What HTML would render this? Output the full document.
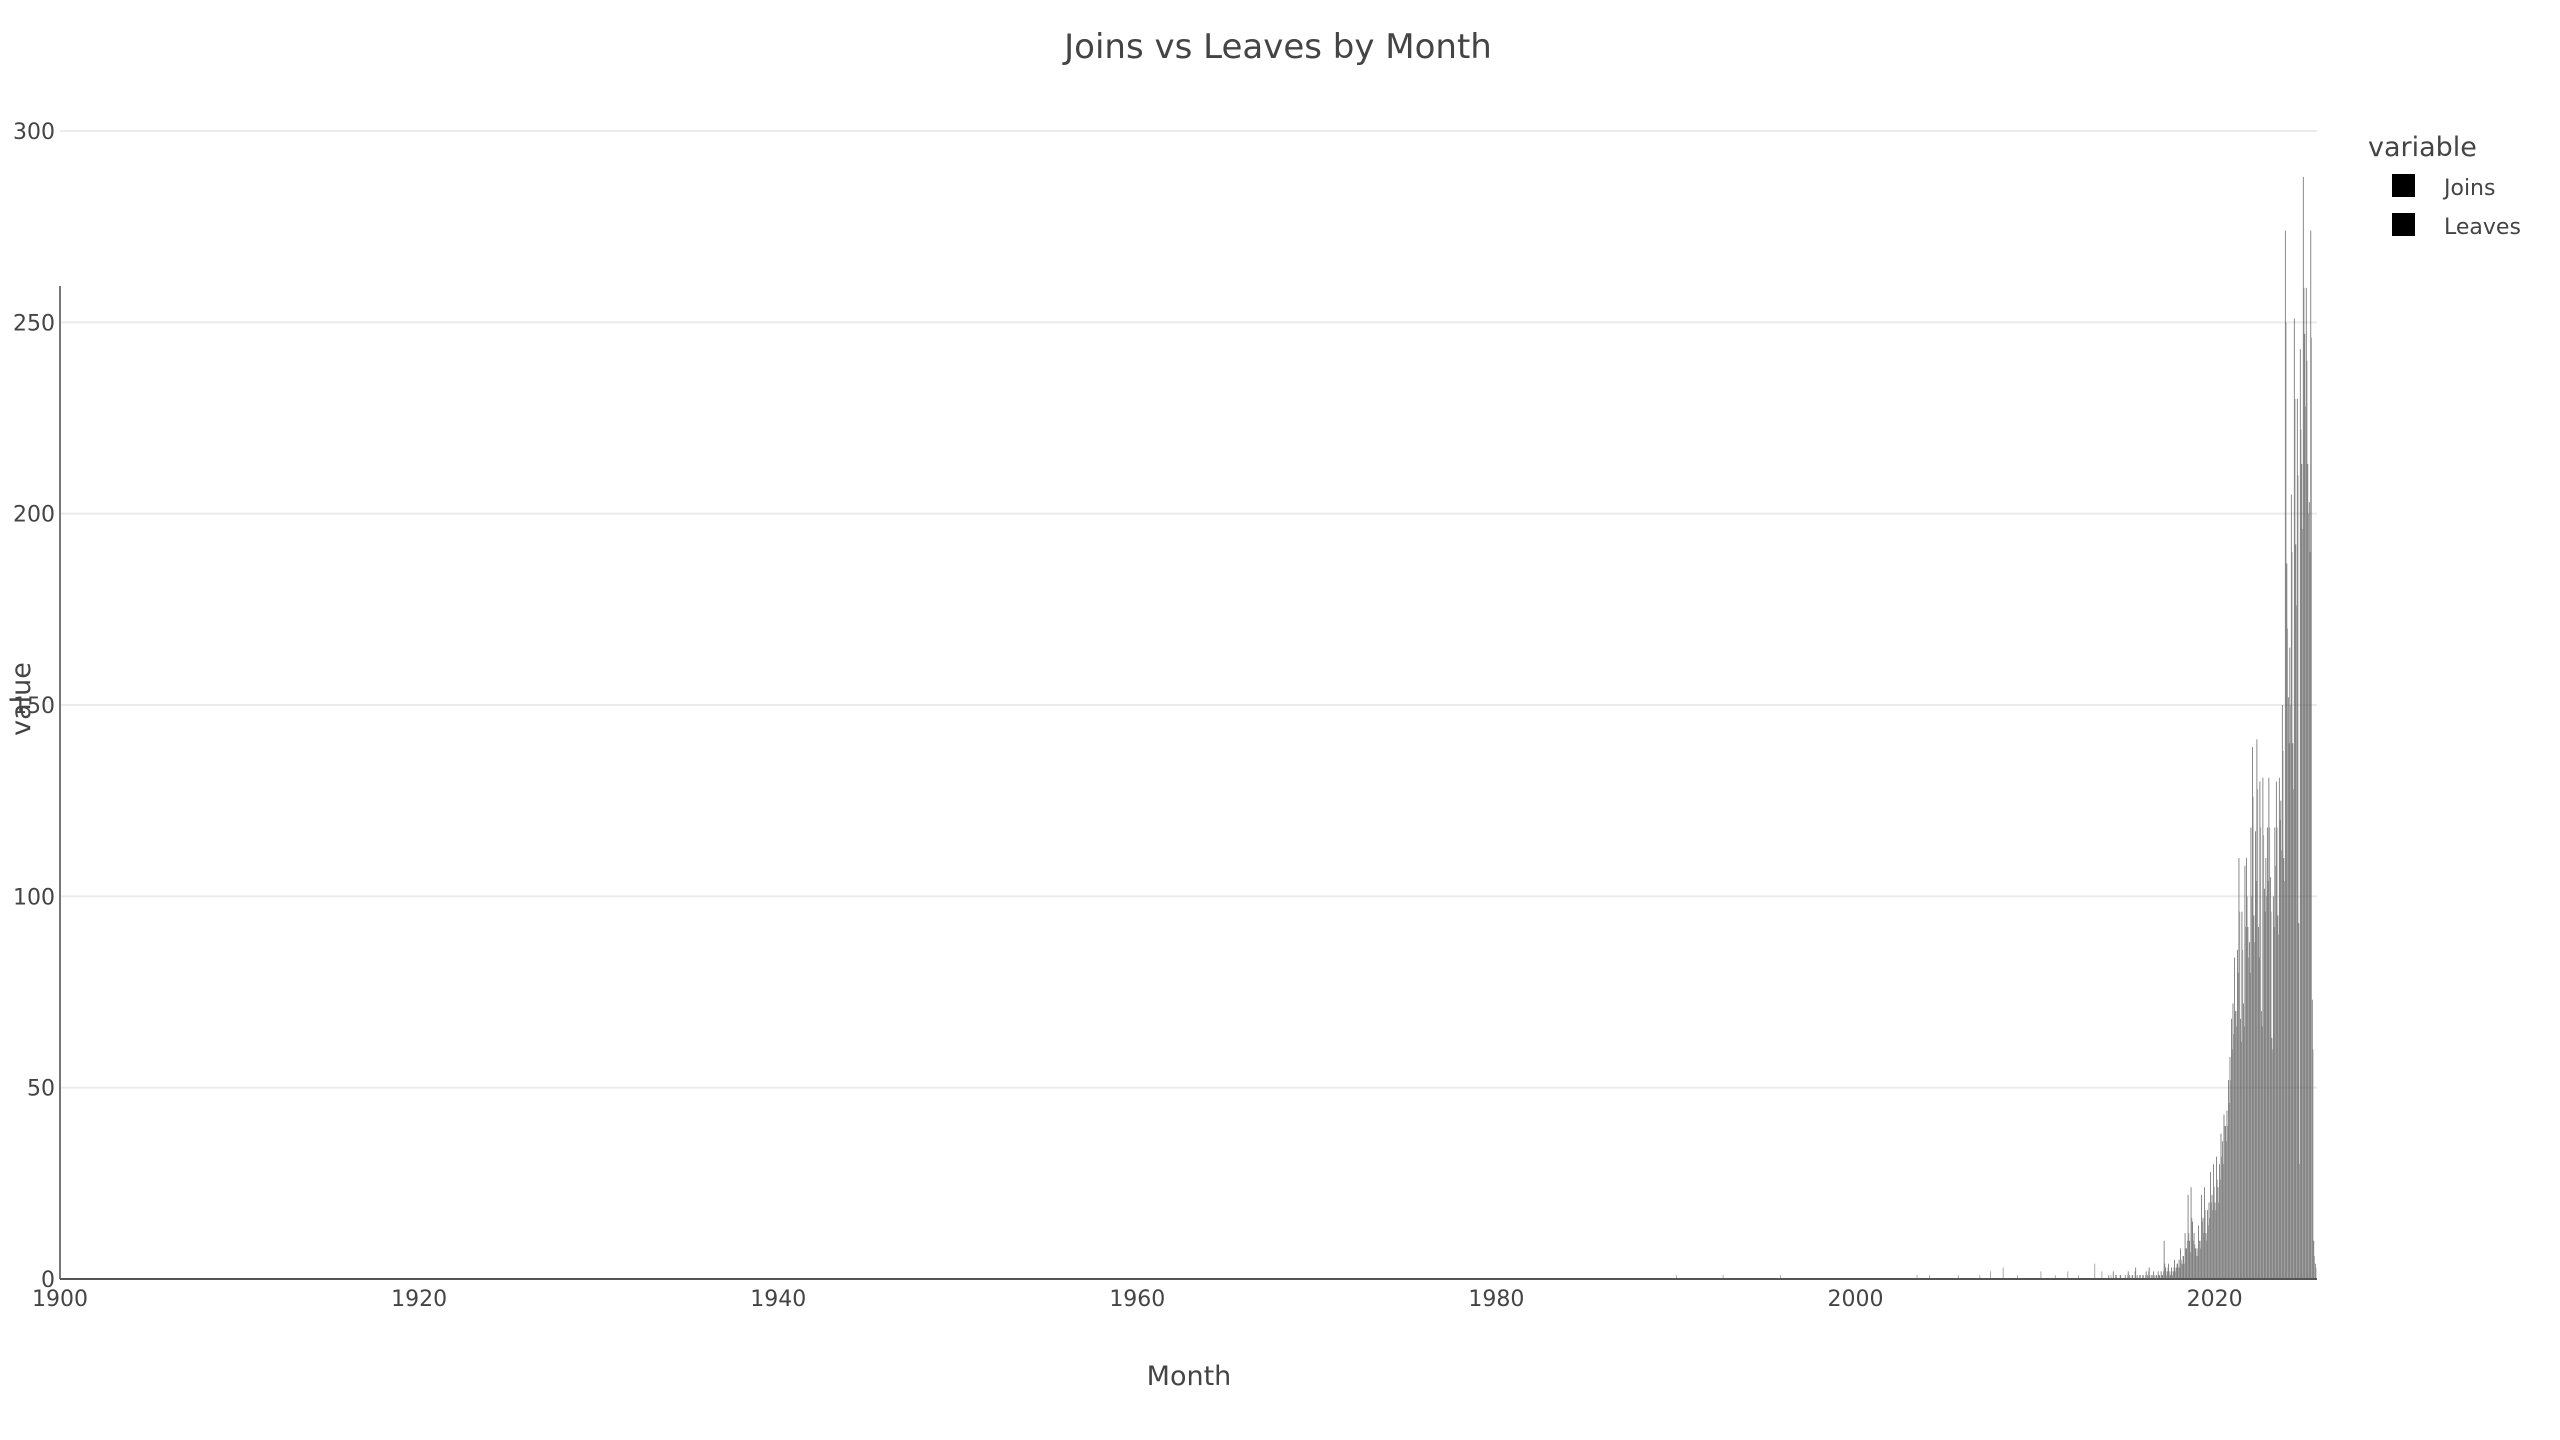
<!DOCTYPE html>
<html><head><meta charset="utf-8">
<style>
html,body{margin:0;padding:0;background:#fff;}
svg{display:block;font-family:"DejaVu Sans","Liberation Sans",sans-serif;}
</style></head>
<body>
<svg id="chart" width="2560" height="1440" viewBox="0 0 2560 1440">
  <text x="1278" y="58" text-anchor="middle" font-size="34" fill="#444">Joins vs Leaves by Month</text>
  <g id="grid"></g>
  <g id="bars"></g>
  <g id="axes"></g>
  <text x="1189" y="1385" text-anchor="middle" font-size="27" fill="#444">Month</text>
  <text transform="translate(30,699) rotate(-90)" text-anchor="middle" font-size="27" fill="#444">value</text>
  <g>
    <text x="2368" y="156" font-size="27" fill="#444">variable</text>
    <g>
      <rect x="2392" y="174" width="23" height="23" fill="#000"></rect>
      <text x="2444" y="195" font-size="22" fill="#444">Joins</text>
    </g>
    <g>
      <rect x="2392" y="213" width="23" height="23" fill="#000"></rect>
      <text x="2444" y="234" font-size="22" fill="#444">Leaves</text>
    </g>
  </g>
</svg>
<script>
const startYear = 2014;
const joins = [
  0,1,0,0,2,0,1,0,0,1,0,0,
  1,0,2,1,0,1,0,3,1,0,1,0,
  1,0,2,1,3,0,1,2,0,1,2,1,
  2,1,10,3,2,4,1,3,2,5,3,4,
  5,8,4,6,12,8,22,10,24,15,12,8,
  8,14,10,22,16,24,12,18,20,28,22,30,
  20,32,24,30,38,36,43,40,44,52,58,68,
  72,84,70,86,110,68,96,72,108,110,92,88,
  118,139,95,117,141,92,130,70,131,102,110,118,
  131,105,63,100,118,130,95,131,125,150,110,274,
  187,152,165,205,140,251,192,230,93,243,213,288,
  247,259,213,203,274,73,10,4
];
const leaves = [
  0,0,1,0,0,1,0,0,1,0,0,0,
  0,1,0,0,1,0,2,0,0,1,0,1,
  0,1,0,2,1,1,0,1,1,0,1,0,
  1,2,4,1,3,2,2,1,3,2,4,3,
  3,5,6,4,8,10,12,7,16,10,9,6,
  6,10,8,15,12,18,10,14,16,20,18,24,
  18,26,20,26,32,30,40,36,40,46,52,60,
  64,70,66,80,96,62,86,66,92,100,84,80,
  100,126,88,104,128,84,118,66,116,96,100,104,
  118,96,60,92,108,118,90,120,112,138,104,250,
  170,140,150,190,128,230,176,210,30,222,196,259,
  228,240,200,190,246,60,6,3
];
const earlyYears = [1990, 1992.6, 1995.8, 2003.4, 2004.1, 2005.7, 2006.9, 2007.5, 2008.2, 2009.0, 2010.3, 2011.1, 2011.8, 2012.4, 2013.3, 2013.7];
const earlyValues = [1, 1, 1, 1, 1, 1, 1, 2, 3, 1, 2, 1, 2, 1, 4, 2];
const yTicks = [0, 50, 100, 150, 200, 250, 300];
const xTicks = [1900, 1920, 1940, 1960, 1980, 2000, 2020];

const NS = "http://www.w3.org/2000/svg";
const X0 = 60, X1 = 2317, Y0 = 1279, Y1 = 131;
const xMin = 1900, xMax = 2025.7, yMax = 300;
function xs(v){ return X0 + (v - xMin) / (xMax - xMin) * (X1 - X0); }
function ys(v){ return Y0 - v / yMax * (Y0 - Y1); }
function mk(tag, attrs, parent){
  const e = document.createElementNS(NS, tag);
  for (const k in attrs) e.setAttribute(k, attrs[k]);
  parent.appendChild(e);
  return e;
}
const grid = document.getElementById('grid');
const axes = document.getElementById('axes');
const bars = document.getElementById('bars');

yTicks.forEach(t => {
  if (t > 0) {
    const l = mk('line', {x1: X0, x2: X1, y1: ys(t), y2: ys(t), stroke: '#ebebeb', 'stroke-width': 2}, grid);
    
    
  }
  const tx = mk('text', {x: 55, y: ys(t) + 8, 'text-anchor': 'end', 'font-size': 22, fill: '#444'}, axes);
  tx.textContent = t;
  
  
});
xTicks.forEach(t => {
  const tx = mk('text', {x: xs(t), y: 1306, 'text-anchor': 'middle', 'font-size': 22, fill: '#444'}, axes);
  tx.textContent = t;
  
  
});

const mw = (xs(2001) - xs(2000)) / 12;
const bw = Math.max(mw * 0.4, 0.8);
function bar(xc, v, fill, name){
  if (v <= 0) return;
  const r = mk('rect', {x: xc, y: ys(v), width: bw, height: Y0 - ys(v), fill: fill}, bars);
  
  
}
joins.forEach((v, i) => {
  const c = xs(startYear + (i + 0.5) / 12);
  bar(c - bw, v, 'rgba(60,60,60,0.75)', 'bar-joins');
});
leaves.forEach((v, i) => {
  const c = xs(startYear + (i + 0.5) / 12);
  bar(c, v, 'rgba(110,110,110,0.6)', 'bar-leaves');
});
earlyValues.forEach((v, i) => {
  bar(xs(earlyYears[i]), v, 'rgba(80,80,80,0.6)', 'bar-early');
});

const ax = mk('line', {x1: X0, x2: X0, y1: 286, y2: Y0, stroke: '#777', 'stroke-width': 2}, axes);


const bx = mk('line', {x1: X0, x2: X1, y1: Y0, y2: Y0, stroke: '#555', 'stroke-width': 2}, axes);


</script>
</body></html>
